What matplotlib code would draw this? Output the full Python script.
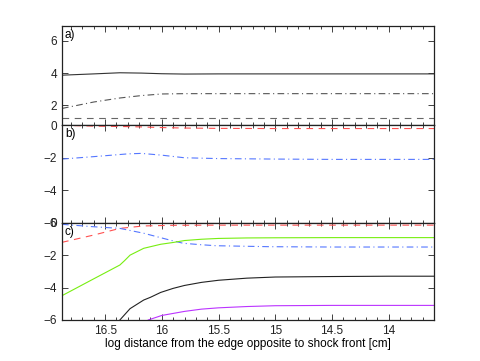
import matplotlib
matplotlib.use('Agg')
import matplotlib.pyplot as plt
from matplotlib.ticker import MultipleLocator, FuncFormatter

plt.rcParams['font.family'] = ['Liberation Sans', 'DejaVu Sans']
plt.rcParams['font.size'] = 8.5

# panel a
xa = [16.88, 16.6, 16.37, 16.18, 16.0, 15.8, 15.5, 15.0, 14.5, 14.0, 13.6]
a_solid = [3.87, 3.95, 4.02, 4.0, 3.96, 3.94, 3.95, 3.95, 3.95, 3.95, 3.95]
a_dashdot = [1.8, 2.2, 2.45, 2.6, 2.7, 2.72, 2.72, 2.72, 2.72, 2.72, 2.72]
a_dashed = [1.2, 1.2, 1.2, 1.2, 1.2, 1.2, 1.2, 1.2, 1.2, 1.2, 1.2]

# panel b
xb = [16.88, 16.6, 16.3, 16.18, 16.0, 15.8, 15.5, 15.0, 14.5, 14.0, 13.6]
b_red = [0.0, -0.05, -0.08, -0.1, -0.14, -0.17, -0.19, -0.2, -0.2, -0.2, -0.2]
b_blue = [-2.08, -1.93, -1.76, -1.73, -1.84, -2.0, -2.05, -2.08, -2.1, -2.1, -2.1]

# panel c
xc_red = [16.88, 16.6, 16.37, 16.16, 15.9, 15.5, 15.0, 14.0, 13.6]
c_red = [-1.21, -0.76, -0.35, -0.2, -0.16, -0.15, -0.15, -0.15, -0.15]
xc_blue = [16.88, 16.6, 16.37, 16.16, 15.93, 15.81, 15.65, 15.52, 15.05, 14.5, 14.0, 13.6]
c_blue = [-0.1, -0.25, -0.35, -0.65, -1.07, -1.27, -1.36, -1.42, -1.48, -1.5, -1.5, -1.5]
xc_green = [16.88, 16.6, 16.37, 16.33, 16.28, 16.16, 16.1, 16.01, 15.9, 15.8, 15.65, 15.5,
            15.25, 15.0, 14.5, 14.0, 13.6]
c_green = [-4.5, -3.46, -2.61, -2.35, -2.0, -1.58, -1.48, -1.33, -1.22, -1.1, -1.02, -0.97,
           -0.94, -0.93, -0.92, -0.92, -0.92]
xc_black = [16.37, 16.28, 16.16, 16.1, 16.01, 15.9, 15.8, 15.65, 15.5, 15.25, 15.0, 14.5,
            14.0, 13.6]
c_black = [-6.0, -5.3, -4.77, -4.6, -4.3, -4.05, -3.87, -3.68, -3.55, -3.42, -3.35, -3.32,
           -3.3, -3.3]
xc_mag = [16.12, 16.0, 15.8, 15.65, 15.5, 15.25, 15.0, 14.5, 14.0, 13.6]
c_mag = [-6.0, -5.72, -5.47, -5.33, -5.25, -5.17, -5.12, -5.1, -5.1, -5.1]

xlim = (16.88, 13.6)
lw = 0.8
dashed = (6, 5)
dashdot = (6, 3, 1, 3)

fig = plt.figure(figsize=(4.8, 3.61), dpi=100)
left, width = 0.1292, 0.775
ax_a = fig.add_axes([left, 0.6529, width, 0.2737])
ax_b = fig.add_axes([left, 0.3831, width, 0.2698])
ax_c = fig.add_axes([left, 0.1136, width, 0.2695])

fmt = FuncFormatter(lambda v, p: '%g' % v)


def style_axis(ax, label):
    ax.set_xlim(xlim)
    ax.xaxis.set_major_locator(MultipleLocator(0.5))
    ax.xaxis.set_minor_locator(MultipleLocator(0.1))
    ax.xaxis.set_major_formatter(fmt)
    ax.tick_params(which='both', direction='in', top=True, right=True,
                   width=0.6, colors='#222222')
    ax.tick_params(which='major', length=4)
    ax.tick_params(which='minor', length=2.5)
    for sp in ax.spines.values():
        sp.set_linewidth(0.9)
        sp.set_color('#222222')
    ax.text(0.008, 0.97, label, transform=ax.transAxes, va='top', ha='left')


ax_a.plot(xa, a_solid, color='#333333', lw=lw)
ax_a.plot(xa, a_dashdot, color='#555555', lw=lw, dashes=dashdot)
ax_a.plot(xa, a_dashed, color='#666666', lw=lw, dashes=dashed)
ax_a.set_ylim(0.75, 6.9)
ax_a.set_yticks([2, 4, 6])
style_axis(ax_a, 'a)')
ax_a.tick_params(labelbottom=False)

ax_b.plot(xb, b_red, color='#ff5050', lw=lw, dashes=dashed)
ax_b.plot(xb, b_blue, color='#5577ff', lw=lw, dashes=dashdot)
ax_b.set_ylim(-6, 0)
ax_b.set_yticks([-6, -4, -2, 0])
style_axis(ax_b, 'b)')
ax_b.tick_params(labelbottom=False)

ax_c.plot(xc_red, c_red, color='#ff5050', lw=lw, dashes=dashed)
ax_c.plot(xc_blue, c_blue, color='#5577ff', lw=lw, dashes=dashdot)
ax_c.plot(xc_green, c_green, color='#77ee11', lw=lw)
ax_c.plot(xc_black, c_black, color='#222222', lw=lw)
ax_c.plot(xc_mag, c_mag, color='#bb33ff', lw=lw)
ax_c.set_ylim(-6, 0)
ax_c.set_yticks([-6, -4, -2, 0])
style_axis(ax_c, 'c)')
ax_c.set_xlabel('log distance from the edge opposite to shock front [cm]', labelpad=1)

fig.savefig('out.png', dpi=100)
